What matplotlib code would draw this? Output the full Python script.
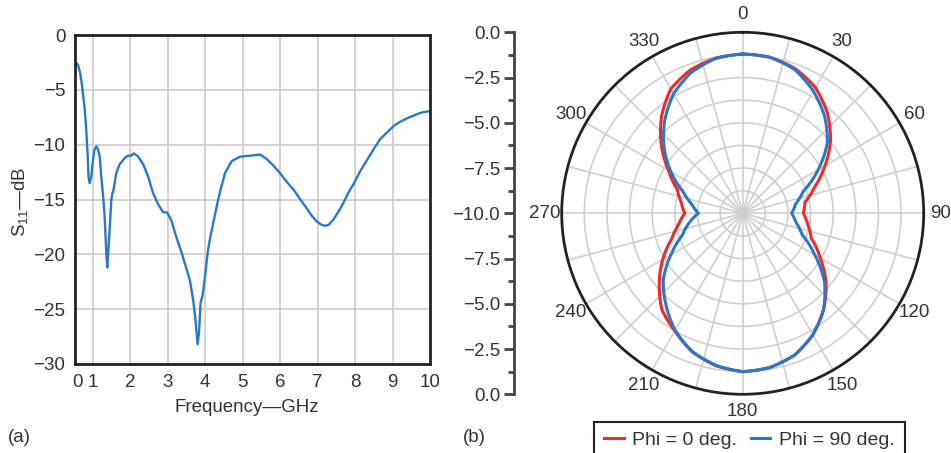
import numpy as np
import matplotlib
matplotlib.use("Agg")
import matplotlib.pyplot as plt
from matplotlib.lines import Line2D

plt.rcParams['font.family'] = ['Liberation Sans', 'DejaVu Sans']
plt.rcParams['mathtext.fontset'] = 'custom'
plt.rcParams['mathtext.rm'] = 'Liberation Sans'
plt.rcParams['mathtext.it'] = 'Liberation Sans:italic'

TXT = '#333333'
GRID = '#cfcfcf'
BLUE = '#2b78c6'
RED = '#ee2a2a'

# (a) measured S11 vs frequency
freq_ghz = [0.53, 0.56, 0.61, 0.67, 0.72, 0.79, 0.83, 0.87, 0.89, 0.92, 0.965, 1.01, 1.05, 1.10,
            1.14, 1.19, 1.23, 1.28, 1.32, 1.37, 1.39, 1.42, 1.45, 1.50, 1.53, 1.56, 1.63, 1.72,
            1.86, 1.94, 2.03, 2.10, 2.21, 2.35, 2.48, 2.61, 2.75, 2.88, 2.99, 3.10, 3.24, 3.37,
            3.51, 3.59, 3.68, 3.75, 3.80, 3.84, 3.88, 3.93, 3.99, 4.07, 4.13, 4.22, 4.35, 4.40,
            4.53, 4.71, 4.93, 5.20, 5.47, 5.64, 5.82, 6.00, 6.18, 6.36, 6.54, 6.71, 6.85, 6.98,
            7.10, 7.20, 7.30, 7.43, 7.56, 7.69, 7.82, 7.96, 8.14, 8.32, 8.50, 8.67, 8.85, 9.03,
            9.21, 9.39, 9.56, 9.74, 9.88, 10.0]
s11_db = [-2.6, -2.55, -2.73, -3.5, -4.7, -6.8, -8.6, -11.1, -12.9, -13.5, -12.9, -11.4, -10.45, -10.15,
          -10.4, -11.1, -12.9, -14.7, -16.5, -20.2, -21.2, -19.6, -18.0, -15.0, -14.4, -14.1, -12.6, -11.8,
          -11.2, -11.0, -11.0, -10.8, -11.06, -11.8, -12.9, -14.4, -15.45, -16.15, -16.2, -16.9, -18.5, -19.8,
          -21.4, -22.3, -24.1, -26.2, -28.2, -27.1, -24.4, -23.8, -22.3, -19.8, -18.6, -17.1, -15.0, -14.3,
          -12.6, -11.5, -11.1, -11.0, -10.9, -11.3, -11.9, -12.6, -13.4, -14.1, -15.0, -15.8, -16.5, -17.0,
          -17.3, -17.4, -17.3, -16.8, -16.1, -15.3, -14.4, -13.6, -12.4, -11.4, -10.4, -9.5, -8.9, -8.3,
          -7.9, -7.6, -7.35, -7.1, -7.0, -6.95]
freq_ticks = [1, 2, 3, 4, 5, 6, 7, 8, 9, 10]
s11_ticks = [0, -5, -10, -15, -20, -25, -30]

# (b) radiation pattern, dB, every 10 degrees
angle_deg = list(range(0, 361, 10))
phi0_db = [-1.2, -1.25, -1.5, -1.97, -2.73, -3.66, -4.75, -5.78, -6.51, -6.65,
           -6.34, -5.97, -5.05, -3.98, -3.05, -2.25, -1.65, -1.35, -1.25,
           -1.45, -1.85, -2.5, -3.05, -3.98, -4.9, -5.82, -6.4, -6.8,
           -6.55, -6.16, -5.27, -4.13, -3.02, -2.06, -1.57, -1.3, -1.2]
phi90_db = [-1.2, -1.25, -1.56, -2.2, -2.97, -3.89, -5.18, -6.44, -7.03, -7.3,
            -7.0, -6.5, -5.4, -4.1, -3.05, -2.25, -1.65, -1.35, -1.25,
            -1.47, -1.87, -2.53, -3.4, -4.27, -5.42, -6.45, -7.0, -7.55,
            -7.15, -6.5, -5.42, -4.33, -3.3, -2.37, -1.71, -1.32, -1.2]
scale_labels = ['0.0', '\u22122.5', '\u22125.0', '\u22127.5', '\u221210.0',
                '\u22127.5', '\u22125.0', '\u22122.5', '0.0']

W, H = 951, 453
fig = plt.figure(figsize=(W / 100, H / 100), dpi=100)

# ---- panel (a)
ax = fig.add_axes([75 / W, (H - 364) / H, 355 / W, 329 / H])
ax.plot(freq_ghz, s11_db, color=BLUE, lw=1.7)
ax.set_xlim(0.53, 10)
ax.set_ylim(-30, 0)
ax.set_xticks(freq_ticks)
ax.set_xticks([0.6], ['0'], minor=True)
ax.set_yticks(s11_ticks)
ax.grid(True, which='major', color=GRID, lw=1.3)
ax.tick_params(which='both', length=0, labelsize=13.5, colors=TXT, pad=7)
for sp in ax.spines.values():
    sp.set_color('#222222')
    sp.set_linewidth(2)
fig.text(20 / W, 1 - 202 / H, r'S$_{11}$—dB', rotation=90, ha='center', va='center',
         fontsize=13.5, color=TXT)
fig.text(247 / W, 1 - 408 / H, 'Frequency—GHz', ha='center', va='center',
         fontsize=13.5, color=TXT)
fig.text(8 / W, 1 - 437 / H, '(a)', ha='left', va='center', fontsize=13.5, color=TXT)

# ---- panel (b)
pax = fig.add_axes([561.7 / W, (H - 394.3) / H, 362 / W, 362 / H], projection='polar')
pax.set_theta_zero_location('N')
pax.set_theta_direction(-1)
th = np.deg2rad(angle_deg)
for vals, col in [(phi0_db, RED), (phi90_db, BLUE)]:
    ln, = pax.plot(th, vals, color=col, lw=2.2)
    # draw each segment as an arc in polar space instead of a chord
    ln.get_path()._interpolation_steps = 25
pax.set_rlim(-10, 0)
pax.set_rticks(np.arange(-8.75, 0, 1.25))
pax.set_yticklabels([])
tdeg = np.arange(0, 360, 15)
pax.set_xticks(np.deg2rad(tdeg), [str(d) if d % 30 == 0 else '' for d in tdeg])
pax.tick_params(axis='x', labelsize=13.5, colors=TXT, pad=2)
pax.grid(True, color=GRID, lw=1.2)
pax.spines['polar'].set_color('#222222')
pax.spines['polar'].set_linewidth(2)

# dB scale beside the polar plot
sax = fig.add_axes([514 / W, (H - 394.3) / H, 0.0001, 362 / H])
sax.set_ylim(0, 20)
sax.set_yticks(np.arange(0, 20.1, 2.5), scale_labels)
sax.set_yticks(np.arange(1.25, 20, 2.5), minor=True)
sax.set_xticks([])
for k in ['right', 'top', 'bottom']:
    sax.spines[k].set_visible(False)
sax.spines['left'].set_color('#444444')
sax.spines['left'].set_linewidth(2)
sax.tick_params(axis='y', which='major', length=7, width=2, colors='#444444',
                labelcolor=TXT, labelsize=13.5, pad=3)
sax.tick_params(axis='y', which='minor', length=4.5, width=2, colors='#444444')
sax.patch.set_visible(False)

fig.text(463 / W, 1 - 437 / H, '(b)', ha='left', va='center', fontsize=13.5, color=TXT)

handles = [Line2D([], [], color=RED, lw=2.2), Line2D([], [], color=BLUE, lw=2.2)]
leg = fig.legend(handles, ['Phi = 0 deg.', 'Phi = 90 deg.'], loc='upper center',
                 bbox_to_anchor=(749.5 / W, 1 - 421.5 / H), ncol=2, fontsize=14,
                 handlelength=1.0, handletextpad=0.45, columnspacing=0.7,
                 fancybox=False, framealpha=1, edgecolor='#222222', borderpad=0.5,
                 borderaxespad=0)
leg.get_frame().set_linewidth(1.5)
for t in leg.get_texts():
    t.set_color(TXT)

fig.savefig('out.png', dpi=100)
